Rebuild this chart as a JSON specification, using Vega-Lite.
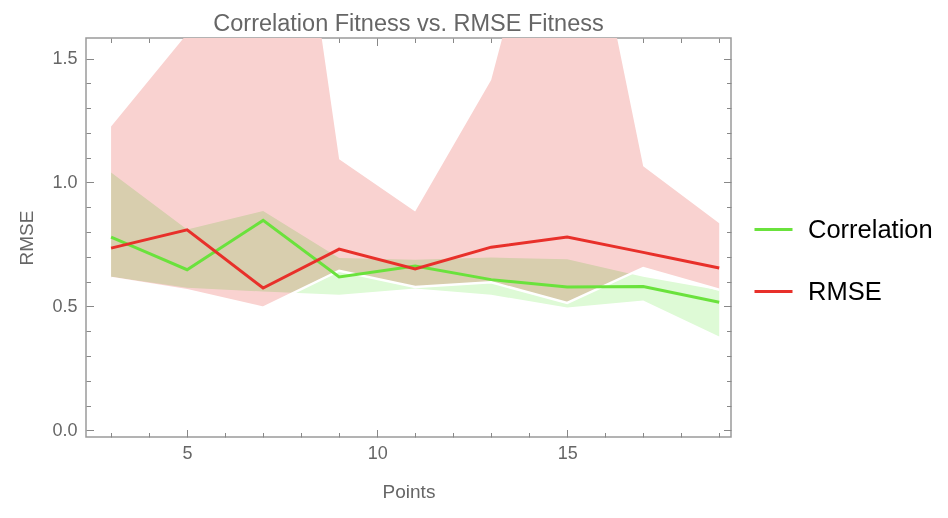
{
  "$schema": "https://vega.github.io/schema/vega-lite/v6.json",
  "autosize": {"type": "none"},
  "padding": {"left": 86, "top": 38, "right": 217, "bottom": 81},
  "width": 645,
  "height": 399,
  "title": {
    "text": "Correlation Fitness vs. RMSE Fitness",
    "fontSize": 23.5,
    "color": "#666666",
    "font": "Liberation Sans",
    "fontWeight": "normal",
    "offset": 2
  },
  "data": {
    "values": [
      {"Points": 3, "series": "Correlation", "mean": 0.78, "lo": 0.62, "hi": 1.04},
      {"Points": 5, "series": "Correlation", "mean": 0.648, "lo": 0.575, "hi": 0.81},
      {"Points": 7, "series": "Correlation", "mean": 0.847, "lo": 0.56, "hi": 0.885},
      {"Points": 9, "series": "Correlation", "mean": 0.619, "lo": 0.547, "hi": 0.695},
      {"Points": 11, "series": "Correlation", "mean": 0.663, "lo": 0.572, "hi": 0.688},
      {"Points": 13, "series": "Correlation", "mean": 0.608, "lo": 0.547, "hi": 0.697},
      {"Points": 15, "series": "Correlation", "mean": 0.578, "lo": 0.496, "hi": 0.69},
      {"Points": 17, "series": "Correlation", "mean": 0.58, "lo": 0.524, "hi": 0.62},
      {"Points": 19, "series": "Correlation", "mean": 0.517, "lo": 0.379, "hi": 0.565},
      {"Points": 3, "series": "RMSE", "mean": 0.735, "lo": 0.615, "hi": 1.226},
      {"Points": 5, "series": "RMSE", "mean": 0.809, "lo": 0.565, "hi": 1.6},
      {"Points": 7, "series": "RMSE", "mean": 0.574, "lo": 0.495, "hi": 3.22},
      {"Points": 9, "series": "RMSE", "mean": 0.731, "lo": 0.644, "hi": 1.094},
      {"Points": 11, "series": "RMSE", "mean": 0.651, "lo": 0.578, "hi": 0.883},
      {"Points": 13, "series": "RMSE", "mean": 0.739, "lo": 0.597, "hi": 1.414},
      {"Points": 15, "series": "RMSE", "mean": 0.78, "lo": 0.514, "hi": 2.57},
      {"Points": 17, "series": "RMSE", "mean": 0.718, "lo": 0.655, "hi": 1.065},
      {"Points": 19, "series": "RMSE", "mean": 0.655, "lo": 0.567, "hi": 0.836}
    ]
  },
  "layer": [
    {
      "transform": [{"filter": "datum.series === 'RMSE'"}],
      "mark": {"type": "area", "color": "#F9D2D0", "opacity": 1, "clip": true},
      "encoding": {
        "x": {
          "field": "Points", "type": "quantitative",
          "scale": {"domain": [2.34, 19.31], "nice": false, "zero": false},
          "axis": {
            "orient": "top", "labels": false, "title": null,
            "values": [3, 4, 5, 6, 7, 8, 9, 10, 11, 12, 13, 14, 15, 16, 17, 18, 19],
            "tickSize": {"condition": {"test": "datum.value % 5 === 0", "value": -7.5}, "value": -4.5}
          }
        },
        "y": {
          "field": "lo", "type": "quantitative",
          "scale": {"domain": [-0.027, 1.583], "nice": false, "zero": false},
          "axis": {
            "orient": "right", "labels": false, "title": null,
            "values": [0, 0.1, 0.2, 0.3, 0.4, 0.5, 0.6, 0.7, 0.8, 0.9, 1.0, 1.1, 1.2, 1.3, 1.4, 1.5],
            "tickSize": {"condition": {"test": "abs(datum.value * 2 - round(datum.value * 2)) < 0.001", "value": -7.5}, "value": -4.5}
          }
        },
        "y2": {"field": "hi"}
      }
    },
    {
      "transform": [{"filter": "datum.series === 'Correlation'"}],
      "mark": {"type": "area", "color": "#DEFAD6", "opacity": 1, "blend": "multiply"},
      "encoding": {
        "x": {
          "field": "Points", "type": "quantitative",
          "scale": {"domain": [2.34, 19.31], "nice": false, "zero": false},
          "axis": {
            "orient": "bottom", "title": "Points", "titlePadding": 20, "labelPadding": 15,
            "values": [3, 4, 5, 6, 7, 8, 9, 10, 11, 12, 13, 14, 15, 16, 17, 18, 19],
            "labelExpr": "datum.value % 5 === 0 ? datum.label : ''",
            "tickSize": {"condition": {"test": "datum.value % 5 === 0", "value": -7.5}, "value": -4.5}
          }
        },
        "y": {
          "field": "lo", "type": "quantitative",
          "scale": {"domain": [-0.027, 1.583], "nice": false, "zero": false},
          "axis": {
            "orient": "left", "title": "RMSE", "titlePadding": 15, "labelPadding": 16.5,
            "values": [0, 0.1, 0.2, 0.3, 0.4, 0.5, 0.6, 0.7, 0.8, 0.9, 1.0, 1.1, 1.2, 1.3, 1.4, 1.5],
            "labelExpr": "abs(datum.value * 2 - round(datum.value * 2)) < 0.001 ? format(datum.value, '.1f') : ''",
            "tickSize": {"condition": {"test": "abs(datum.value * 2 - round(datum.value * 2)) < 0.001", "value": -7.5}, "value": -4.5}
          }
        },
        "y2": {"field": "hi"}
      }
    },
    {
      "transform": [{"filter": "datum.series === 'RMSE'"}],
      "mark": {"type": "line", "color": "#FFFFFF", "strokeWidth": 2.5, "clip": true},
      "encoding": {
        "x": {"field": "Points", "type": "quantitative", "axis": null},
        "y": {"field": "lo", "type": "quantitative", "axis": null}
      }
    },
    {
      "mark": {"type": "line", "strokeWidth": 3, "clip": true},
      "encoding": {
        "x": {"field": "Points", "type": "quantitative", "axis": null},
        "y": {"field": "mean", "type": "quantitative", "axis": null},
        "color": {
          "field": "series", "type": "nominal",
          "scale": {"domain": ["Correlation", "RMSE"], "range": ["#6AE23C", "#E8302A"]},
          "legend": {
            "title": null,
            "orient": "none",
            "legendX": 667,
            "legendY": 171,
            "padding": 0,
            "symbolType": "stroke",
            "symbolSize": 1444,
            "symbolStrokeWidth": 3,
            "labelFontSize": 25.5,
            "labelFont": "Liberation Sans",
            "labelColor": "#000000",
            "labelOffset": 14,
            "rowPadding": 28
          }
        }
      }
    }
  ],
  "resolve": {"axis": {"x": "independent", "y": "independent"}},
  "config": {
    "view": {"stroke": "#9a9a9a", "strokeWidth": 1.5},
    "axis": {
      "domain": false,
      "grid": false,
      "tickColor": "#888888",
      "tickWidth": 1,
      "labelFont": "Liberation Sans",
      "labelFontSize": 18,
      "labelColor": "#666666",
      "titleFont": "Liberation Sans",
      "titleFontSize": 19,
      "titleFontWeight": "normal",
      "titleColor": "#666666"
    }
  }
}
